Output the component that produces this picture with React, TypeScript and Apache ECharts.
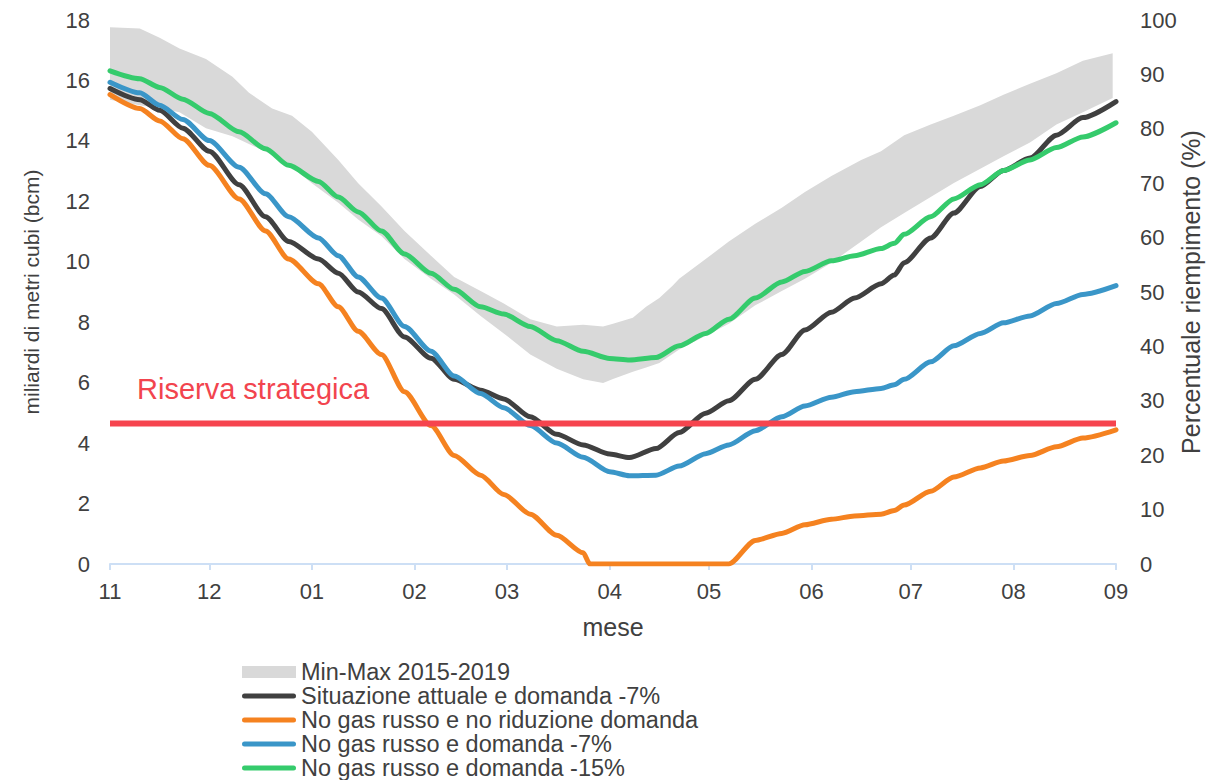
import React, { useEffect, useRef } from "react";
import * as echarts from "echarts";

// x positions are days counted from 1 November
const MONTH_DAYS = [0, 30, 61, 92, 120, 151, 181, 212, 242, 273, 304];
const MONTH_LABELS = ["11", "12", "01", "02", "03", "04", "05", "06", "07", "08", "09"];

const BAND_DAYS = [0, 9, 15, 21, 29, 37, 42, 49, 55, 61, 69, 75, 82, 89, 97, 104, 112, 119, 127, 135, 143, 149, 152, 158, 162, 166, 170, 172, 180, 187, 195, 203, 210, 218, 227, 233, 240, 248, 255, 263, 270, 278, 286, 294, 303];
const BAND_MAX = [17.76, 17.72, 17.41, 17.06, 16.71, 16.12, 15.59, 15.07, 14.83, 14.3, 13.37, 12.6, 11.84, 11.02, 10.2, 9.5, 9.03, 8.62, 8.1, 7.86, 7.92, 7.86, 7.95, 8.15, 8.51, 8.8, 9.21, 9.44, 10.09, 10.67, 11.26, 11.79, 12.31, 12.84, 13.37, 13.66, 14.19, 14.54, 14.83, 15.18, 15.53, 15.89, 16.24, 16.65, 16.9];
const BAND_MIN = [15.36, 15.18, 15.08, 14.95, 14.42, 14.15, 13.9, 13.54, 13.13, 12.6, 11.95, 11.4, 10.85, 10.09, 9.44, 8.92, 8.21, 7.63, 6.93, 6.46, 6.11, 5.99, 6.12, 6.36, 6.5, 6.65, 6.95, 7.1, 7.55, 7.95, 8.56, 9.03, 9.44, 9.97, 10.67, 11.14, 11.61, 12.14, 12.61, 13.08, 13.49, 13.95, 14.54, 14.95, 15.42];

const LINE_DAYS = [0, 9, 15, 22, 30, 39, 47, 54, 63, 69, 75, 82, 89, 97, 104, 112, 119, 127, 135, 143, 151, 157, 165, 172, 180, 187, 195, 203, 210, 218, 225, 233, 237, 240, 248, 255, 263, 270, 278, 286, 294, 304];
const ATTUALE = [15.73, 15.36, 15.01, 14.42, 13.66, 12.55, 11.49, 10.67, 10.09, 9.62, 9.0, 8.45, 7.51, 6.81, 6.11, 5.75, 5.46, 4.87, 4.29, 3.94, 3.64, 3.52, 3.82, 4.35, 4.99, 5.4, 6.11, 6.93, 7.74, 8.33, 8.8, 9.27, 9.56, 9.97, 10.79, 11.61, 12.49, 13.02, 13.43, 14.19, 14.77, 15.3];
const NO_RU_7 = [15.94, 15.59, 15.18, 14.71, 14.01, 13.13, 12.25, 11.49, 10.79, 10.2, 9.5, 8.8, 7.86, 7.04, 6.22, 5.64, 5.17, 4.58, 4.0, 3.53, 3.05, 2.92, 2.94, 3.24, 3.65, 3.94, 4.41, 4.87, 5.23, 5.52, 5.7, 5.81, 5.93, 6.11, 6.69, 7.22, 7.63, 7.98, 8.21, 8.62, 8.92, 9.21];
const NO_RU_15 = [16.32, 16.06, 15.77, 15.38, 14.91, 14.3, 13.74, 13.19, 12.66, 12.14, 11.65, 11.02, 10.26, 9.62, 9.09, 8.51, 8.27, 7.86, 7.39, 7.04, 6.8, 6.75, 6.83, 7.22, 7.63, 8.1, 8.8, 9.33, 9.68, 10.03, 10.2, 10.44, 10.61, 10.91, 11.49, 12.08, 12.55, 13.02, 13.37, 13.78, 14.13, 14.6];

const ORANGE_DAYS = [0, 9, 15, 22, 30, 39, 47, 54, 63, 69, 75, 82, 89, 97, 104, 112, 119, 127, 135, 143, 145, 187, 195, 203, 210, 218, 225, 233, 237, 240, 248, 255, 263, 270, 278, 286, 294, 304];
const NO_RU_NO_RID = [15.53, 15.07, 14.66, 14.07, 13.19, 12.08, 11.02, 10.09, 9.27, 8.51, 7.7, 6.93, 5.7, 4.58, 3.59, 2.94, 2.3, 1.65, 0.95, 0.37, 0, 0, 0.78, 1.01, 1.3, 1.48, 1.59, 1.65, 1.77, 1.95, 2.41, 2.88, 3.18, 3.41, 3.59, 3.88, 4.17, 4.44];

const RESERVE = 4.65;
const RESERVE_DAYS = [0, 304];

const NAMES = {
  band: "Min-Max 2015-2019",
  attuale: "Situazione attuale e domanda -7%",
  noRid: "No gas russo e no riduzione domanda",
  ru7: "No gas russo e domanda -7%",
  ru15: "No gas russo e domanda -15%",
};

const FONT = "'Liberation Sans', Arial, sans-serif";
const TXT = "#404040";
const AXIS_BLUE = "#cddff5";
const BAND_COLOR = "#d9d9d9";
const LINE_ICON = "path://M2.5,0 H51.5 A2.5,2.5 0 0 1 51.5,5 H2.5 A2.5,2.5 0 0 1 2.5,0 Z";

const pairs = (d: number[], v: number[]) => d.map((x, i) => [x, v[i]]);

export default function App() {
  const ref = useRef<HTMLDivElement>(null);
  useEffect(() => {
    if (!ref.current) return;
    const chart = echarts.init(ref.current, undefined, { renderer: "svg", width: 1207, height: 780 });
    const lineSeries = (name: string, days: number[], vals: number[], color: string, z: number) => ({
      name,
      type: "line",
      data: pairs(days, vals),
      showSymbol: false,
      symbol: "none",
      smooth: 0.25,
      smoothMonotone: "x",
      color,
      itemStyle: { color },
      z,
      lineStyle: { width: 5, color, cap: "round", join: "round" },
    });
    chart.setOption({
      animation: false,
      textStyle: { fontFamily: FONT },
      grid: { left: 110, right: 91, top: 20, bottom: 216, containLabel: false, outerBoundsMode: "none" },
      legend: {
        orient: "vertical",
        left: 237,
        top: 655,
        height: 140,
        itemWidth: 54,
        itemHeight: 12,
        itemGap: 0,
        symbolKeepAspect: true,
        itemStyle: { borderWidth: 0 },
        textStyle: { fontFamily: FONT, fontSize: 23.5, color: TXT, lineHeight: 21.5 },
        data: [
          { name: NAMES.band, icon: "rect", itemStyle: { color: BAND_COLOR } },
          { name: NAMES.attuale, icon: LINE_ICON },
          { name: NAMES.noRid, icon: LINE_ICON },
          { name: NAMES.ru7, icon: LINE_ICON },
          { name: NAMES.ru15, icon: LINE_ICON },
        ],
      },
      xAxis: {
        type: "value",
        min: 0,
        max: 304,
        name: "mese",
        nameLocation: "middle",
        nameGap: 50,
        nameTextStyle: { fontFamily: FONT, fontSize: 25, color: TXT },
        axisLine: { show: true, lineStyle: { color: AXIS_BLUE, width: 2 } },
        axisTick: { show: true, length: 6, customValues: MONTH_DAYS, lineStyle: { color: AXIS_BLUE, width: 2 } },
        axisLabel: {
          customValues: MONTH_DAYS,
          margin: 16,
          fontFamily: FONT,
          fontSize: 22,
          color: TXT,
          formatter: (v: number) => {
            const i = MONTH_DAYS.indexOf(Math.round(v));
            return i >= 0 ? MONTH_LABELS[i] : "";
          },
        },
        splitLine: { show: false },
      },
      yAxis: [
        {
          type: "value",
          min: 0,
          max: 18,
          interval: 2,
          position: "left",
          name: "miliardi di metri cubi (bcm)",
          nameLocation: "middle",
          nameRotate: 90,
          nameGap: 68,
          nameTextStyle: { fontFamily: FONT, fontSize: 21, color: TXT },
          axisLine: { show: false },
          axisTick: { show: false },
          splitLine: { show: false },
          axisLabel: { margin: 20, fontFamily: FONT, fontSize: 22, color: TXT },
        },
        {
          type: "value",
          min: 0,
          max: 100,
          interval: 10,
          position: "right",
          name: "Percentuale riempimento (%)",
          nameLocation: "middle",
          nameRotate: 90,
          nameGap: 62,
          nameMoveOverlap: false,
          nameTextStyle: { fontFamily: FONT, fontSize: 25, color: TXT },
          axisLine: { show: false },
          axisTick: { show: false },
          splitLine: { show: false },
          axisLabel: { margin: 24, fontFamily: FONT, fontSize: 22, color: TXT },
        },
      ],
      series: [
        {
          name: NAMES.band,
          type: "custom",
          data: BAND_DAYS.map((d, i) => [d, BAND_MIN[i], BAND_MAX[i]]),
          encode: { x: 0, y: [1, 2] },
          color: BAND_COLOR,
          itemStyle: { color: BAND_COLOR },
          z: 1,
          silent: true,
          renderItem: (params: any, api: any) => {
            if (params.dataIndex !== 0) return null;
            const upper = BAND_DAYS.map((d, i) => api.coord([d, BAND_MAX[i]]));
            const lower = BAND_DAYS.map((d, i) => api.coord([d, BAND_MIN[i]])).reverse();
            return {
              type: "polygon",
              shape: { points: upper.concat(lower) },
              style: { fill: BAND_COLOR, stroke: null },
            };
          },
        },
        lineSeries(NAMES.attuale, LINE_DAYS, ATTUALE, "#404040", 3),
        lineSeries(NAMES.noRid, ORANGE_DAYS, NO_RU_NO_RID, "#f58220", 4),
        lineSeries(NAMES.ru7, LINE_DAYS, NO_RU_7, "#3a96c8", 5),
        lineSeries(NAMES.ru15, LINE_DAYS, NO_RU_15, "#35cb6c", 6),
        {
          name: "Riserva strategica",
          type: "line",
          data: RESERVE_DAYS.map((d) => [d, RESERVE]),
          showSymbol: false,
          symbol: "none",
          color: "#f6444e",
          lineStyle: { width: 6, color: "#f6444e", cap: "butt" },
          z: 7,
        },
      ],
      graphic: [
        {
          type: "text",
          left: 137,
          top: 374,
          z: 10,
          style: {
            text: "Riserva strategica",
            fontFamily: FONT,
            fontSize: 29,
            fill: "#f2444e",
          },
        },
      ],
    });
    return () => chart.dispose();
  }, []);
  return (
    <div
      ref={ref}
      style={{ position: "fixed", left: 0, top: 0, width: 1207, height: 780, background: "#fff" }}
    />
  );
}
